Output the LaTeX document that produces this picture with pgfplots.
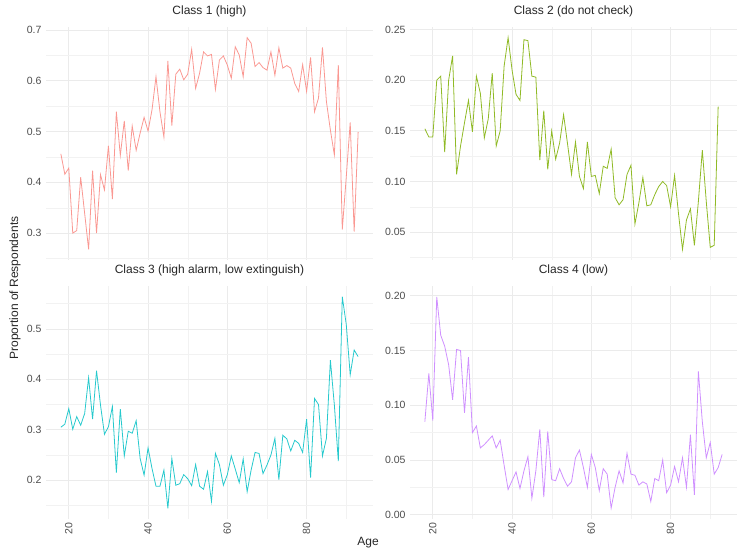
\documentclass[border=0pt]{standalone}
\usepackage{pgfplots}
\pgfplotsset{compat=1.18}
\usepackage{fontspec}
\setmainfont{Liberation Sans}
\definecolor{c1}{HTML}{F8766D}
\definecolor{c2}{HTML}{7CAE00}
\definecolor{c3}{HTML}{00BFC4}
\definecolor{c4}{HTML}{C77CFF}
\definecolor{gridmaj}{HTML}{EBEBEB}
\definecolor{gridmin}{HTML}{F2F2F2}
\definecolor{ticktxt}{HTML}{4D4D4D}
\pgfplotsset{
  panel/.style={
    scale only axis, width=327pt, height=233pt,
    xmin=14.25, xmax=96.75,
    axis line style={draw=none}, tick style={draw=none},
    xtick={20,40,60,80}, minor xtick={30,50,70,90},
    grid=both,
    major grid style={color=gridmaj, line width=0.7pt},
    minor grid style={color=gridmin, line width=0.4pt},
    ticklabel style={font=\fontsize{10.5}{12}\selectfont, text=ticktxt},
    /pgf/number format/assume math mode=true,
    title style={at={(0.5,1)}, anchor=south, yshift=0pt, font=\fontsize{12}{14}\selectfont, text=black!85},
    xticklabel style={rotate=90, anchor=east},
    yticklabel style={xshift=-1pt},
  },
  top/.style={xticklabels={}},
}
\begin{document}
\begin{tikzpicture}
\useasboundingbox (0pt,0pt) rectangle (737pt,550pt);
% Panel 1
\begin{axis}[panel, top, at={(46pt,290pt)}, anchor=south west,
  title={Class 1 (high)},
  ymin=0.247, ymax=0.706, ytick={0.3,0.4,0.5,0.6,0.7},
  minor ytick={0.25,0.35,0.45,0.55,0.65},
  yticklabel style={/pgf/number format/fixed, /pgf/number format/precision=1}]
\addplot[c1!75, line width=0.8pt] coordinates {
(18,0.456)(19,0.416)(20,0.428)(21,0.300)(22,0.305)(23,0.410)(24,0.339)(25,0.268)(26,0.423)(27,0.300)
(28,0.415)(29,0.385)(30,0.472)(31,0.367)(32,0.539)(33,0.453)(34,0.521)(35,0.423)(36,0.511)(37,0.463)
(38,0.497)(39,0.528)(40,0.501)(41,0.543)(42,0.608)(43,0.539)(44,0.489)(45,0.639)(46,0.512)(47,0.613)
(48,0.623)(49,0.602)(50,0.613)(51,0.662)(52,0.585)(53,0.615)(54,0.657)(55,0.649)(56,0.652)(57,0.583)
(58,0.641)(59,0.649)(60,0.631)(61,0.605)(62,0.667)(63,0.651)(64,0.608)(65,0.685)(66,0.674)(67,0.628)
(68,0.636)(69,0.626)(70,0.621)(71,0.657)(72,0.611)(73,0.665)(74,0.625)(75,0.630)(76,0.625)(77,0.595)
(78,0.579)(79,0.632)(80,0.579)(81,0.646)(82,0.539)(83,0.566)(84,0.666)(85,0.559)(86,0.503)(87,0.454)
(88,0.631)(89,0.307)(90,0.410)(91,0.518)(92,0.303)(93,0.499)};
\end{axis}
% Panel 2
\begin{axis}[panel, top, at={(410pt,290pt)}, anchor=south west,
  title={Class 2 (do not check)},
  ymin=0.0225, ymax=0.2525, ytick={0.05,0.10,0.15,0.20,0.25},
  minor ytick={0.025,0.075,0.125,0.175,0.225},
  yticklabel style={/pgf/number format/fixed, /pgf/number format/fixed zerofill, /pgf/number format/precision=2}]
\addplot[c2!85, line width=0.8pt] coordinates {
(18,0.152)(19,0.144)(20,0.144)(21,0.200)(22,0.204)(23,0.129)(24,0.200)(25,0.224)(26,0.107)(27,0.135)
(28,0.158)(29,0.180)(30,0.149)(31,0.204)(32,0.187)(33,0.143)(34,0.162)(35,0.207)(36,0.135)(37,0.150)
(38,0.214)(39,0.242)(40,0.210)(41,0.186)(42,0.180)(43,0.240)(44,0.239)(45,0.204)(46,0.203)(47,0.121)
(48,0.170)(49,0.112)(50,0.150)(51,0.122)(52,0.138)(53,0.166)(54,0.137)(55,0.107)(56,0.139)(57,0.105)
(58,0.093)(59,0.139)(60,0.105)(61,0.106)(62,0.088)(63,0.115)(64,0.113)(65,0.132)(66,0.084)(67,0.077)
(68,0.082)(69,0.107)(70,0.116)(71,0.058)(72,0.079)(73,0.104)(74,0.076)(75,0.077)(76,0.087)(77,0.095)
(78,0.100)(79,0.096)(80,0.075)(81,0.106)(82,0.068)(83,0.033)(84,0.062)(85,0.073)(86,0.037)(87,0.080)
(88,0.131)(89,0.080)(90,0.035)(91,0.037)(92,0.174)};
\end{axis}
% Panel 3
\begin{axis}[panel, at={(46pt,31pt)}, anchor=south west,
  title={Class 3 (high alarm, low extinguish)},
  ymin=0.123, ymax=0.585, ytick={0.2,0.3,0.4,0.5},
  minor ytick={0.15,0.25,0.35,0.45,0.55},
  yticklabel style={/pgf/number format/fixed, /pgf/number format/precision=1}]
\addplot[c3!85, line width=0.8pt] coordinates {
(18,0.305)(19,0.311)(20,0.342)(21,0.301)(22,0.326)(23,0.309)(24,0.332)(25,0.403)(26,0.321)(27,0.417)
(28,0.349)(29,0.291)(30,0.306)(31,0.346)(32,0.215)(33,0.341)(34,0.248)(35,0.297)(36,0.293)(37,0.318)
(38,0.243)(39,0.210)(40,0.264)(41,0.223)(42,0.188)(43,0.188)(44,0.220)(45,0.144)(46,0.243)(47,0.190)
(48,0.193)(49,0.211)(50,0.203)(51,0.189)(52,0.231)(53,0.188)(54,0.182)(55,0.217)(56,0.158)(57,0.253)
(58,0.231)(59,0.190)(60,0.211)(61,0.248)(62,0.222)(63,0.195)(64,0.242)(65,0.177)(66,0.220)(67,0.255)
(68,0.253)(69,0.213)(70,0.230)(71,0.250)(72,0.283)(73,0.201)(74,0.289)(75,0.282)(76,0.258)(77,0.279)
(78,0.273)(79,0.255)(80,0.321)(81,0.205)(82,0.362)(83,0.350)(84,0.248)(85,0.283)(86,0.438)(87,0.349)
(88,0.238)(89,0.564)(90,0.509)(91,0.409)(92,0.458)(93,0.445)};
\end{axis}
% Panel 4
\begin{axis}[panel, at={(410pt,31pt)}, anchor=south west,
  title={Class 4 (low)},
  ymin=-0.004, ymax=0.209, ytick={0,0.05,0.10,0.15,0.20},
  minor ytick={0.025,0.075,0.125,0.175},
  yticklabel style={/pgf/number format/fixed, /pgf/number format/fixed zerofill, /pgf/number format/precision=2}]
\addplot[c4!85, line width=0.8pt] coordinates {
(18,0.085)(19,0.129)(20,0.086)(21,0.199)(22,0.164)(23,0.154)(24,0.137)(25,0.105)(26,0.151)(27,0.150)
(28,0.093)(29,0.144)(30,0.075)(31,0.081)(32,0.061)(33,0.064)(34,0.068)(35,0.072)(36,0.061)(37,0.068)
(38,0.045)(39,0.023)(40,0.031)(41,0.039)(42,0.024)(43,0.040)(44,0.053)(45,0.015)(46,0.040)(47,0.078)
(48,0.016)(49,0.076)(50,0.032)(51,0.031)(52,0.042)(53,0.033)(54,0.026)(55,0.030)(56,0.052)(57,0.059)
(58,0.043)(59,0.025)(60,0.055)(61,0.043)(62,0.022)(63,0.042)(64,0.037)(65,0.006)(66,0.025)(67,0.040)
(68,0.029)(69,0.056)(70,0.037)(71,0.036)(72,0.027)(73,0.030)(74,0.028)(75,0.012)(76,0.033)(77,0.031)
(78,0.050)(79,0.020)(80,0.027)(81,0.044)(82,0.030)(83,0.052)(84,0.025)(85,0.073)(86,0.018)(87,0.131)
(88,0.085)(89,0.052)(90,0.066)(91,0.037)(92,0.043)(93,0.055)};
\end{axis}
\node[rotate=90, font=\fontsize{12}{14}\selectfont, text=black!85] at (15pt,262pt) {Proportion of Respondents};
\node[font=\fontsize{12}{14}\selectfont, text=black!85] at (368pt,7pt) {Age};
\end{tikzpicture}
\end{document}
